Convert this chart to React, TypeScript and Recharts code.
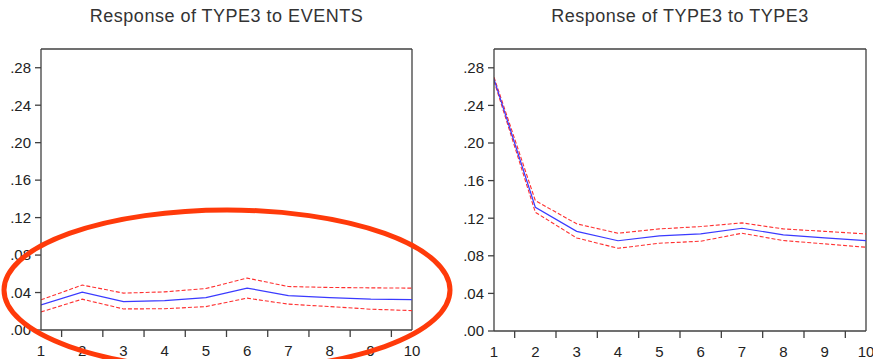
import React from 'react';
import { LineChart, Line, XAxis, YAxis, ReferenceLine } from 'recharts';

const periods = [1, 2, 3, 4, 5, 6, 7, 8, 9, 10];
const yTicks = [0, 0.04, 0.08, 0.12, 0.16, 0.2, 0.24, 0.28];

const eventsResp = [0.0268, 0.0404, 0.0303, 0.0314, 0.0346, 0.0447, 0.0368, 0.0346, 0.0329, 0.0325];
const eventsUpper = [0.0322, 0.048, 0.0394, 0.0407, 0.0443, 0.0554, 0.0464, 0.0454, 0.045, 0.0447];
const eventsLower = [0.0193, 0.0329, 0.0225, 0.0227, 0.025, 0.034, 0.0276, 0.025, 0.0222, 0.0207];

const type3Resp = [0.268, 0.1316, 0.106, 0.096, 0.1012, 0.1033, 0.1093, 0.1023, 0.0991, 0.0962];
const type3Upper = [0.27, 0.1387, 0.114, 0.104, 0.1086, 0.1111, 0.115, 0.1086, 0.106, 0.1033];
const type3Lower = [0.266, 0.1263, 0.099, 0.088, 0.0934, 0.0955, 0.104, 0.0962, 0.0927, 0.0891];

const build = (r: number[], u: number[], l: number[]) =>
  periods.map((p, i) => ({ p, r: r[i], u: u[i], l: l[i] }));

const FONT = '"Liberation Sans", Arial, sans-serif';
const AXIS = '#404040';
const TXT = '#222';

const fmtY = (v: number) => v.toFixed(2).replace(/^0/, '');

function makeXTick(plotWidth: number) {
  const step = plotWidth / (periods.length - 1);
  return (props: any) => {
    const { x, y, payload } = props;
    const v = payload.value;
    return (
      <g>
        <text x={x} y={y + 26} textAnchor="middle" fontSize={15} fill={TXT} fontFamily={FONT}>
          {v}
        </text>
        {v < periods[periods.length - 1] && (
          <line x1={x + step / 2} x2={x + step / 2} y1={y} y2={y + 7} stroke={AXIS} strokeWidth={1.3} />
        )}
      </g>
    );
  };
}

type PanelProps = {
  title: string;
  data: any[];
  width: number;
  yAxisWidth: number;
  right: number;
  top: number;
  xHeight: number;
  left: number;
};

function Panel({ title, data, width, yAxisWidth, right, top, xHeight, left }: PanelProps) {
  const plotWidth = width - yAxisWidth - right;
  return (
    <div style={{ position: 'absolute', left, top: 0, width, height: 359 }}>
      <div
        style={{
          position: 'absolute',
          left: yAxisWidth - 20,
          width: plotWidth + 40,
          top: 6,
          textAlign: 'center',
          fontFamily: FONT,
          fontSize: 18,
          letterSpacing: 0.5,
          color: '#333',
          whiteSpace: 'nowrap',
        }}
      >
        {title}
      </div>
      <LineChart width={width} height={359} data={data} margin={{ top, right, left: 0, bottom: 0 }}>
        <XAxis
          dataKey="p"
          type="number"
          domain={[1, 10]}
          ticks={periods}
          tickLine={false}
          tickSize={0}
          tickMargin={0}
          height={xHeight}
          stroke={AXIS}
          strokeWidth={1.3}
          tick={makeXTick(plotWidth)}
          interval={0}
          allowDataOverflow
        />
        <YAxis
          type="number"
          domain={[0, 0.3]}
          ticks={yTicks}
          width={yAxisWidth}
          tickFormatter={fmtY}
          stroke={AXIS}
          strokeWidth={1.3}
          tickSize={6}
          tickMargin={4}
          tick={{ fontSize: 15, fill: TXT, fontFamily: FONT }}
          interval={0}
          allowDataOverflow
        />
        <ReferenceLine y={0.3} stroke={AXIS} strokeWidth={1.3} />
        <ReferenceLine x={10} stroke={AXIS} strokeWidth={1.3} />
        <Line dataKey="u" stroke="#ff3030" strokeWidth={1.1} strokeDasharray="4 2" dot={false} isAnimationActive={false} />
        <Line dataKey="l" stroke="#ff3030" strokeWidth={1.1} strokeDasharray="4 2" dot={false} isAnimationActive={false} />
        <Line dataKey="r" stroke="#3a3aff" strokeWidth={1.2} dot={false} isAnimationActive={false} />
      </LineChart>
    </div>
  );
}

export default function App() {
  return (
    <div style={{ position: 'absolute', left: 0, top: 0, width: 873, height: 359, background: '#fff', overflow: 'hidden' }}>
      <Panel
        title="Response of TYPE3 to EVENTS"
        data={build(eventsResp, eventsUpper, eventsLower)}
        left={0}
        width={436}
        yAxisWidth={41}
        right={24}
        top={49}
        xHeight={29}
      />
      <Panel
        title="Response of TYPE3 to TYPE3"
        data={build(type3Resp, type3Upper, type3Lower)}
        left={436}
        width={437}
        yAxisWidth={58}
        right={7}
        top={49}
        xHeight={28}
      />
      <svg
        width={873}
        height={359}
        style={{ position: 'absolute', left: 0, top: 0, pointerEvents: 'none' }}
      >
        <ellipse cx={227} cy={290} rx={223} ry={80} fill="none" stroke="#ff3a0a" strokeWidth={5} />
      </svg>
    </div>
  );
}
